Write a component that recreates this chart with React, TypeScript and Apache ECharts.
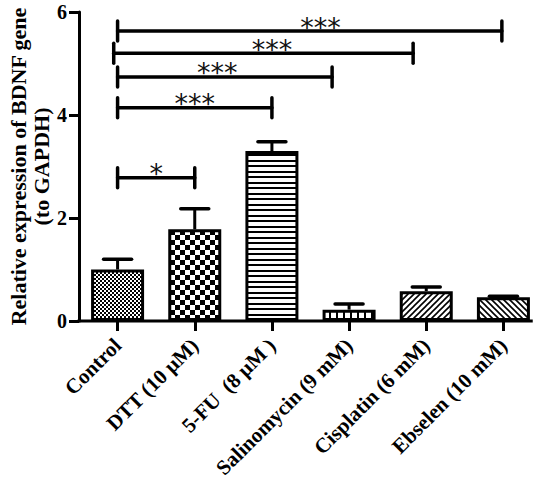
import React, { useEffect, useRef } from 'react';
import * as echarts from 'echarts';

// Treatment groups and relative BDNF expression (mean, upper error)
const categories = [
  'Control',
  'DTT (10 μM)',
  '5-FU  (8 μM )',
  'Salinomycin (9 mM)',
  'Cisplatin (6 mM)',
  'Ebselen (10 mM)',
];
const means = [1.0, 1.78, 3.3, 0.22, 0.58, 0.46];
const errors = [0.2, 0.4, 0.18, 0.11, 0.08, 0.02];
const yTicks = [0, 2, 4, 6];

// Significance brackets: start/end group position, height, star position, label
const bracketStart = [0, 0, 0, -0.05, 0];
const bracketEnd = [1, 2, 2.78, 3.83, 4.98];
const bracketHeight = [2.78, 4.14, 4.74, 5.2, 5.63];
const bracketStarX = [0.5, 1.0, 1.29, 2.0, 2.63];
const bracketLabels = ['*', '***', '***', '***', '***'];

// Fill pattern for each bar
const patternKinds = ['fineCheck', 'check', 'hStripe', 'vStripe', 'diagUp', 'diagDown'];

const SERIF = '"Liberation Serif", "Times New Roman", serif';
const X_AXIS_END = 5.38;

function makePattern(kind: string) {
  const c = document.createElement('canvas');
  let w = 6;
  let h = 6;
  if (kind === 'fineCheck') { w = 4; h = 4; }
  if (kind === 'check') { w = 10; h = 10; }
  if (kind === 'hStripe') { w = 6; h = 11; }
  if (kind === 'vStripe') { w = 7; h = 7; }
  c.width = w;
  c.height = h;
  const ctx = c.getContext('2d')!;
  ctx.fillStyle = '#fff';
  ctx.fillRect(0, 0, w, h);
  ctx.fillStyle = '#000';
  ctx.strokeStyle = '#000';
  if (kind === 'fineCheck') {
    ctx.fillRect(0, 0, 2, 2);
    ctx.fillRect(2, 2, 2, 2);
  } else if (kind === 'check') {
    ctx.fillRect(0, 0, 5, 5);
    ctx.fillRect(5, 5, 5, 5);
  } else if (kind === 'hStripe') {
    ctx.fillRect(0, 0, w, 2);
    ctx.fillRect(0, 6, w, 2);
  } else if (kind === 'vStripe') {
    ctx.fillRect(0, 0, 2, h);
  } else if (kind === 'diagUp' || kind === 'diagDown') {
    ctx.lineWidth = 1.6;
    ctx.beginPath();
    if (kind === 'diagUp') {
      ctx.moveTo(-1, h + 1); ctx.lineTo(w + 1, -1);
      ctx.moveTo(-1, 1); ctx.lineTo(1, -1);
      ctx.moveTo(w - 1, h + 1); ctx.lineTo(w + 1, h - 1);
    } else {
      ctx.moveTo(-1, -1); ctx.lineTo(w + 1, h + 1);
      ctx.moveTo(-1, h - 1); ctx.lineTo(1, h + 1);
      ctx.moveTo(w - 1, -1); ctx.lineTo(w + 1, 1);
    }
    ctx.stroke();
  }
  return { image: c, repeat: 'repeat', imageWidth: w, imageHeight: h };
}

export default function App() {
  const ref = useRef<HTMLDivElement>(null);

  useEffect(() => {
    if (!ref.current) return;
    const chart = echarts.init(ref.current, undefined, { renderer: 'svg' });

    const option: any = {
      animation: false,
      backgroundColor: '#fff',
      grid: { left: 79, right: 4, top: 12, bottom: 160, containLabel: false, outerBoundsMode: 'none' },
      xAxis: [
        {
          type: 'category',
          data: categories,
          axisLine: { show: false },
          axisTick: { show: true, alignWithLabel: true, length: 10, lineStyle: { color: '#000', width: 3 } },
          axisLabel: {
            rotate: 45,
            margin: 21,
            interval: 0,
            color: '#000',
            fontFamily: SERIF,
            fontWeight: 'bold',
            fontSize: 21,
          },
          splitLine: { show: false },
        },
        { type: 'value', min: -0.5, max: 5.5, show: false },
      ],
      yAxis: {
        type: 'value',
        min: yTicks[0],
        max: yTicks[yTicks.length - 1],
        interval: yTicks[1] - yTicks[0],
        name: 'Relative expression of BDNF gene\n(to GAPDH)',
        nameLocation: 'middle',
        nameGap: 26,
        nameMoveOverlap: false,
        nameTextStyle: { fontFamily: SERIF, fontWeight: 'bold', fontSize: 22, lineHeight: 23, color: '#000' },
        axisLine: { show: true, onZero: false, lineStyle: { color: '#000', width: 3 } },
        axisTick: { show: true, length: 10, lineStyle: { color: '#000', width: 3 } },
        axisLabel: { color: '#000', fontFamily: SERIF, fontWeight: 'bold', fontSize: 20, margin: 12 },
        splitLine: { show: false },
      },
      series: [
        {
          type: 'bar',
          barWidth: 53,
          z: 3,
          data: means.map((v, i) => ({
            value: v,
            itemStyle: { color: makePattern(patternKinds[i]), borderColor: '#000', borderWidth: 3 },
          })),
        },
        {
          // upper error whiskers
          type: 'custom',
          z: 2,
          data: means.map((m, i) => [i, m, m + errors[i]]),
          renderItem: (_params: any, api: any) => {
            const base = api.coord([api.value(0), api.value(1)]);
            const top = api.coord([api.value(0), api.value(2)]);
            const half = 14;
            return {
              type: 'group',
              children: [
                { type: 'line', shape: { x1: base[0], y1: base[1], x2: top[0], y2: top[1] }, style: { stroke: '#000', lineWidth: 3 } },
                { type: 'line', shape: { x1: top[0] - half, y1: top[1], x2: top[0] + half, y2: top[1] }, style: { stroke: '#000', lineWidth: 3.5, lineCap: 'round' } },
              ],
            };
          },
        },
        {
          // x axis baseline, ending at the last bar
          type: 'custom',
          xAxisIndex: 1,
          z: 4,
          data: [[-0.5, X_AXIS_END, 0]],
          renderItem: (_params: any, api: any) => {
            const a = api.coord([api.value(0), api.value(2)]);
            const b = api.coord([api.value(1), api.value(2)]);
            return { type: 'line', shape: { x1: a[0] - 1.5, y1: a[1], x2: b[0], y2: b[1] }, style: { stroke: '#000', lineWidth: 3 } };
          },
        },
        {
          // significance brackets
          type: 'custom',
          xAxisIndex: 1,
          z: 5,
          data: bracketStart.map((s, i) => [s, bracketEnd[i], bracketHeight[i], bracketStarX[i]]),
          renderItem: (params: any, api: any) => {
            const i = params.dataIndex;
            const p1 = api.coord([api.value(0), api.value(2)]);
            const p2 = api.coord([api.value(1), api.value(2)]);
            const ps = api.coord([api.value(3), api.value(2)]);
            const cap = 10;
            const ls = { stroke: '#000', lineWidth: 3.5, lineCap: 'round' };
            return {
              type: 'group',
              children: [
                { type: 'line', shape: { x1: p1[0], y1: p1[1], x2: p2[0], y2: p2[1] }, style: ls },
                { type: 'line', shape: { x1: p1[0], y1: p1[1] - cap, x2: p1[0], y2: p1[1] + cap }, style: ls },
                { type: 'line', shape: { x1: p2[0], y1: p2[1] - cap, x2: p2[0], y2: p2[1] + cap }, style: ls },
                {
                  type: 'text',
                  x: ps[0],
                  y: ps[1] - 4,
                  style: {
                    text: bracketLabels[i],
                    fontFamily: '"DejaVu Sans", sans-serif',
                    fontSize: 27,
                    fill: '#111',
                    align: 'center',
                    verticalAlign: 'middle',
                  },
                },
              ],
            };
          },
        },
      ],
    };

    chart.setOption(option);
    return () => chart.dispose();
  }, []);

  return (
    <div
      ref={ref}
      style={{ position: 'fixed', left: 0, top: 0, width: 546, height: 481, background: '#fff' }}
    />
  );
}
